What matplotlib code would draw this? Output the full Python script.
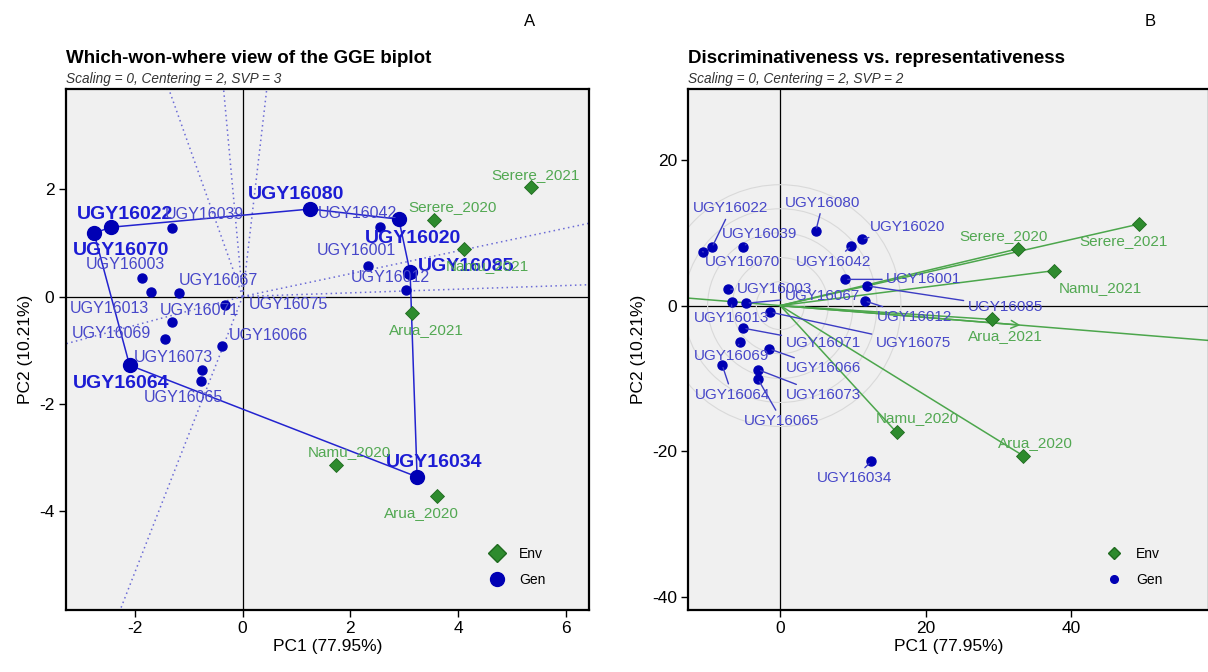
import numpy as np
import matplotlib.pyplot as plt
from matplotlib.lines import Line2D
from matplotlib.patches import Circle

plt.rcParams['font.family'] = ['Liberation Sans', 'DejaVu Sans']
plt.rcParams['axes.unicode_minus'] = False

# genotypes
gen_names = ['UGY16022', 'UGY16070', 'UGY16039', 'UGY16080', 'UGY16042', 'UGY16020',
             'UGY16001', 'UGY16085', 'UGY16012', 'UGY16003', 'UGY16013', 'UGY16067',
             'UGY16075', 'UGY16071', 'UGY16069', 'UGY16066', 'UGY16073', 'UGY16065',
             'UGY16064', 'UGY16034']
# which-won-where (SVP = 3)
gen_x_a = [-2.45, -2.76, -1.32, 1.26, 2.55, 2.90, 2.32, 3.11, 3.04, -1.86, -1.71, -1.18,
           -0.32, -1.32, -1.44, -0.39, -0.76, -0.78, -2.10, 3.24]
gen_y_a = [1.29, 1.18, 1.27, 1.63, 1.30, 1.44, 0.57, 0.45, 0.13, 0.34, 0.09, 0.06,
           -0.15, -0.48, -0.79, -0.92, -1.37, -1.57, -1.28, -3.36]
# discriminativeness vs representativeness (SVP = 2)
gen_x_b = [-9.4, -10.7, -5.1, 4.9, 9.8, 11.2, 8.9, 12.0, 11.6, -7.2, -6.7, -4.65,
           -1.35, -5.1, -5.5, -1.5, -3.06, -3.06, -8.0, 12.5]
gen_y_b = [8.0, 7.4, 8.1, 10.3, 8.2, 9.1, 3.6, 2.7, 0.65, 2.25, 0.47, 0.33,
           -0.9, -3.1, -5.0, -5.95, -8.8, -10.1, -8.15, -21.4]

env_names = ['Serere_2021', 'Serere_2020', 'Namu_2021', 'Arua_2021', 'Namu_2020', 'Arua_2020']
env_x_a = [5.36, 3.55, 4.11, 3.14, 1.74, 3.61]
env_y_a = [2.04, 1.42, 0.88, -0.31, -3.13, -3.72]
env_x_b = [49.4, 32.7, 37.7, 29.1, 16.0, 33.4]
env_y_b = [11.2, 7.8, 4.8, -1.9, -17.4, -20.6]

circle_r = [3.3, 6.6, 10.0, 13.3, 16.6]

# label offsets in pixels (dx right, dy down)
gen_off_a = [(14, -13), (27, 17), (33, -14), (-14, -15), (-23, -13), (14, 19),
             (-11, -15), (56, -6), (-16, -12), (-17, -14), (-41, 17), (39, -13),
             (63, 0), (28, -12), (-54, -5), (47, -10), (-28, -13), (-17, 17),
             (-8, 18), (17, -14)]
env_off_a = [(4, -12), (19, -13), (23, 17), (15, 17), (13, -13), (-16, 17)]
gen_off_b = [(19, -39), (40, 10), (16, -13), (7, -28), (-18, 16), (46, -12),
             (79, 0), (138, 21), (50, 16), (47, 0), (0, 16), (76, -7),
             (143, 31), (80, 15), (-9, 14), (54, 19), (65, 25), (24, 42),
             (10, 30), (-17, 17)]
env_off_b = [(-16, 17), (-14, -13), (46, 17), (14, 17), (21, -14), (12, -13)]

GEN = '#0000b4'
GEN_TXT = '#4747c9'
GEN_BOLD = '#1c1cd4'
ENV = '#2e8b2e'
ENV_TXT = '#52a852'
BG = '#f0f0f0'


def hull(xs, ys):
    pts = sorted(range(len(xs)), key=lambda i: (xs[i], ys[i]))

    def cross(o, a, b):
        return (xs[a] - xs[o]) * (ys[b] - ys[o]) - (ys[a] - ys[o]) * (xs[b] - xs[o])
    lower, upper = [], []
    for i in pts:
        while len(lower) >= 2 and cross(lower[-2], lower[-1], i) <= 0:
            lower.pop()
        lower.append(i)
    for i in reversed(pts):
        while len(upper) >= 2 and cross(upper[-2], upper[-1], i) <= 0:
            upper.pop()
        upper.append(i)
    return lower[:-1] + upper[:-1]


def style_axes(ax):
    ax.set_facecolor(BG)
    for s in ax.spines.values():
        s.set_linewidth(1.6)
    ax.axhline(0, color='black', lw=0.9, zorder=1)
    ax.axvline(0, color='black', lw=0.9, zorder=1)
    ax.tick_params(labelsize=12.5, length=5, width=1, direction='out', pad=3)
    ax.set_xlabel('PC1 (77.95%)', fontsize=12.5, labelpad=2)
    ax.set_ylabel('PC2 (10.21%)', fontsize=12.5, labelpad=4)


fig = plt.figure(figsize=(12.08, 6.72), dpi=100)
W, H = 1208, 672
ax1 = fig.add_axes([65.5 / W, 1 - 610 / H, (589.4 - 65.5) / W, (610 - 89.3) / H])
ax2 = fig.add_axes([688 / W, 1 - 610 / H, (1209 - 688) / W, (610 - 89.3) / H])

# ---------- A: which-won-where ----------
ax = ax1
style_axes(ax)
ax.set_xlim(-3.29, 6.44)
ax.set_ylim(-5.84, 3.86)
ax.set_xticks([-2, 0, 2, 4, 6])
ax.set_yticks([-4, -2, 0, 2])

hv = hull(gen_x_a, gen_y_a)
hx = [gen_x_a[i] for i in hv] + [gen_x_a[hv[0]]]
hy = [gen_y_a[i] for i in hv] + [gen_y_a[hv[0]]]
ax.plot(hx, hy, color='#2323cf', lw=1.1, zorder=2)

# sector rays perpendicular to hull sides
for k in range(len(hv)):
    p1 = np.array([hx[k], hy[k]])
    p2 = np.array([hx[k + 1], hy[k + 1]])
    d = p2 - p1
    foot = p1 - (p1 @ d) / (d @ d) * d
    ax.plot([0, foot[0] * 50], [0, foot[1] * 50], color='#6b6bd6', lw=1.1,
            ls=(0, (1, 2.2)), zorder=1.5)

for i, name in enumerate(gen_names):
    vertex = i in hv
    ax.plot(gen_x_a[i], gen_y_a[i], 'o', color=GEN, ms=10 if vertex else 6.5,
            mec=GEN, zorder=4)
    dx, dy = gen_off_a[i]
    ax.annotate(name, (gen_x_a[i], gen_y_a[i]), xytext=(dx, -dy),
                textcoords='offset pixels', ha='center', va='center',
                fontsize=14 if vertex else 11.5, fontweight='bold' if vertex else 'normal',
                color=GEN_BOLD if vertex else GEN_TXT, zorder=5)
for i, name in enumerate(env_names):
    ax.plot(env_x_a[i], env_y_a[i], 'D', color=ENV, ms=7, mec='#1f6a1f', mew=0.6, zorder=4)
    dx, dy = env_off_a[i]
    ax.annotate(name, (env_x_a[i], env_y_a[i]), xytext=(dx, -dy),
                textcoords='offset pixels', ha='center', va='center',
                fontsize=11, color=ENV_TXT, zorder=5)

h = [Line2D([], [], marker='D', ls='', color=ENV, mec='#1f6a1f', ms=9),
     Line2D([], [], marker='o', ls='', color=GEN, ms=10)]
ax.legend(h, ['Env', 'Gen'], loc='lower right', bbox_to_anchor=(0.94, 0.02),
          frameon=False, fontsize=10, labelspacing=0.9, handletextpad=0.6)

# ---------- B: discriminativeness vs representativeness ----------
ax = ax2
style_axes(ax)
ax.set_xlim(-12.7, 59.0)
ax.set_ylim(-41.8, 29.7)
ax.set_xticks([0, 20, 40])
ax.set_yticks([-40, -20, 0, 20])

for r in circle_r:
    ax.add_patch(Circle((0, 0), r, fill=False, ec='#d9d9d9', lw=0.8, zorder=1.2))

mx, my = np.mean(env_x_b), np.mean(env_y_b)
ax.axline((0, 0), (mx, my), color='#4ca64c', lw=1.1, zorder=2)
ax.annotate('', xy=(mx, my), xytext=(0, 0),
            arrowprops=dict(arrowstyle='->', color='#4ca64c', lw=1.1,
                            shrinkA=0, shrinkB=0, mutation_scale=14), zorder=2)
for i in range(len(env_names)):
    ax.plot([0, env_x_b[i]], [0, env_y_b[i]], color='#4ca64c', lw=1.1, zorder=2)

for i, name in enumerate(gen_names):
    ax.plot(gen_x_b[i], gen_y_b[i], 'o', color=GEN, ms=6.5, zorder=4)
    dx, dy = gen_off_b[i]
    ax.annotate(name, (gen_x_b[i], gen_y_b[i]), xytext=(dx, -dy),
                textcoords='offset pixels', ha='center', va='center',
                fontsize=11, color=GEN_TXT, zorder=5,
                arrowprops=dict(arrowstyle='-', color='#3c3cc4', lw=1,
                                shrinkA=1, shrinkB=2))
for i, name in enumerate(env_names):
    ax.plot(env_x_b[i], env_y_b[i], 'D', color=ENV, ms=7, mec='#1f6a1f', mew=0.6, zorder=4)
    dx, dy = env_off_b[i]
    ax.annotate(name, (env_x_b[i], env_y_b[i]), xytext=(dx, -dy),
                textcoords='offset pixels', ha='center', va='center',
                fontsize=11, color=ENV_TXT, zorder=5)

h = [Line2D([], [], marker='D', ls='', color=ENV, mec='#1f6a1f', ms=6.5),
     Line2D([], [], marker='o', ls='', color=GEN, ms=5.5)]
ax.legend(h, ['Env', 'Gen'], loc='lower right', bbox_to_anchor=(0.935, 0.02),
          frameon=False, fontsize=10, labelspacing=0.9, handletextpad=0.6)

# titles
fig.text(66 / W, 1 - 63 / H, 'Which-won-where view of the GGE biplot',
         fontsize=13.5, fontweight='bold', va='baseline')
fig.text(66 / W, 1 - 83 / H, 'Scaling = 0, Centering = 2, SVP = 3',
         fontsize=9.8, style='italic', color='#333333', va='baseline')
fig.text(688 / W, 1 - 63 / H, 'Discriminativeness vs. representativeness',
         fontsize=13.5, fontweight='bold', va='baseline')
fig.text(688 / W, 1 - 83 / H, 'Scaling = 0, Centering = 2, SVP = 2',
         fontsize=9.8, style='italic', color='#333333', va='baseline')
fig.text(530 / W, 1 - 22 / H, 'A', fontsize=12, ha='center', va='center')
fig.text(1150 / W, 1 - 22 / H, 'B', fontsize=12, ha='center', va='center')

fig.savefig('out.png', dpi=100)
